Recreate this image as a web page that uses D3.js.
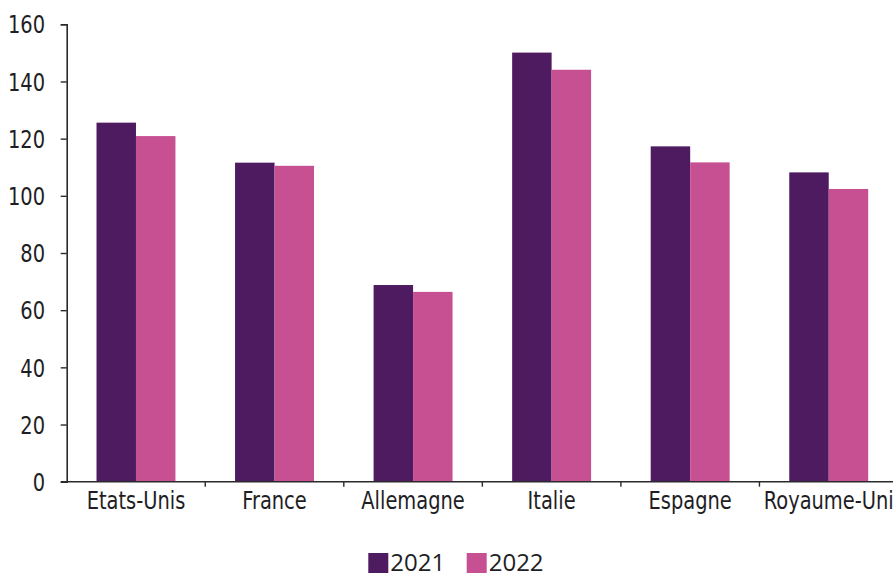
<!DOCTYPE html>
<html>
<head>
<meta charset="utf-8">
<script src="https://cdn.jsdelivr.net/npm/d3@7"></script>
<style>
  body { margin: 0; background: #fff; }
  svg { display: block; }
  .lbl { font-family: "Liberation Sans Narrow", "Arial Narrow", "DejaVu Sans Condensed", sans-serif; fill: #1e1e24; }
  .leg { font-family: "Open Sans", "Noto Sans", sans-serif; fill: #1e1e24; }
</style>
</head>
<body>
<script>
// data
var pays = ["Etats-Unis", "France", "Allemagne", "Italie", "Espagne", "Royaume-Uni"];
var annees = ["2021", "2022"];
var v2021 = [125.6, 111.6, 68.8, 150.1, 117.3, 108.2];
var v2022 = [120.9, 110.5, 66.4, 144.1, 111.7, 102.4];
var yTicks = [0, 20, 40, 60, 80, 100, 120, 140, 160];
var couleurs = ["#4e1a60", "#c65092"];

var W = 893, H = 577;
var rows = pays.map(function(p, i) { return {pays: p, vals: [v2021[i], v2022[i]]}; });

var svg = d3.select("body").append("svg")
    .attr("width", W)
    .attr("height", H);

// scales
var x = d3.scaleBand().domain(pays).range([66.7, 898]).padding(0);
var xs = d3.scaleBand().domain(annees).range([0, x.bandwidth()]).paddingInner(0).paddingOuter(0.755);
var y = d3.scaleLinear().domain([0, 160]).range([481.7, 24.3]);
var color = d3.scaleOrdinal().domain(annees).range(couleurs);

// bars
var g = svg.append("g").selectAll("g")
    .data(rows)
  .enter().append("g")
    .attr("transform", function(d) { return "translate(" + x(d.pays) + ",0)"; });

g.selectAll("rect")
    .data(function(d) { return d.vals.map(function(v, i) { return {an: annees[i], v: v}; }); })
  .enter().append("rect")
    .attr("x", function(d) { return xs(d.an); })
    .attr("width", xs.bandwidth())
    .attr("y", function(d) { return y(d.v); })
    .attr("height", function(d) { return y(0) - y(d.v); })
    .attr("fill", function(d) { return color(d.an); });

// y axis
var ya = svg.append("g")
    .attr("transform", "translate(66.7,0)")
    .call(d3.axisLeft(y).tickValues(yTicks).tickSize(6).tickPadding(18));
ya.select(".domain").attr("stroke", "#2a2a2a").attr("stroke-width", 1.6);
ya.selectAll(".tick line").attr("stroke", "#2a2a2a").attr("stroke-width", 1.4);
ya.selectAll(".tick text").attr("class", "lbl").style("font-size", "24px")
    .attr("dy", "0.36em").attr("transform", "scale(0.9,1)");
ya.attr("font-family", null).attr("font-size", null);

// x axis: line + labels centred + ticks at band edges
var xa = svg.append("g")
    .attr("transform", "translate(0," + y(0) + ")")
    .call(d3.axisBottom(x).tickSize(0).tickPadding(10));
xa.select(".domain").attr("stroke", "#2a2a2a").attr("stroke-width", 1.6)
    .attr("d", "M61," + 0 + "H" + W);
xa.selectAll(".tick text").attr("class", "lbl").style("font-size", "24px")
    .attr("dy", "0.71em").attr("transform", "scale(0.9,1)");
xa.attr("font-family", null).attr("font-size", null);

xa.selectAll(".edge")
    .data(pays.slice(1))
  .enter().append("line")
    .attr("class", "edge")
    .attr("x1", function(d) { return x(d); })
    .attr("x2", function(d) { return x(d); })
    .attr("y1", 0)
    .attr("y2", 5)
    .attr("stroke", "#2a2a2a")
    .attr("stroke-width", 1.4);

// legend
var leg = svg.append("g").selectAll("g")
    .data(annees)
  .enter().append("g")
    .attr("transform", function(d, i) { return "translate(" + (368.3 + i * 98.4) + ",553)"; });
leg.append("rect")
    .attr("width", 20).attr("height", 20)
    .attr("fill", function(d) { return color(d); });
leg.append("text")
    .attr("class", "leg")
    .attr("x", 22).attr("y", 18)
    .style("font-size", "24px")
    .text(function(d) { return d; });
</script>
</body>
</html>
